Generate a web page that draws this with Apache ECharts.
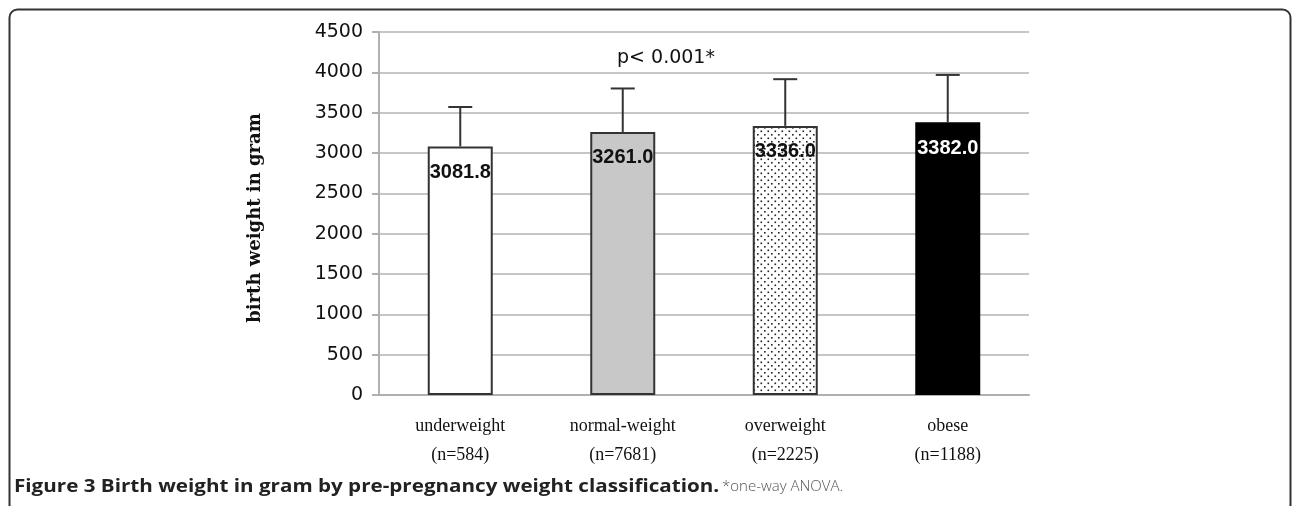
<!DOCTYPE html>
<html>
<head>
<meta charset="utf-8">
<script src="https://cdn.jsdelivr.net/npm/echarts@6/dist/echarts.min.js"></script>
<style>
html,body{margin:0;padding:0;background:#fff;}
#chart{width:1292px;height:506px;}
</style>
</head>
<body>
<div id="chart"></div>
<script>
// ---- data ----
var categories = ['underweight\n(n=584)', 'normal-weight\n(n=7681)', 'overweight\n(n=2225)', 'obese\n(n=1188)'];
var means = [3081.8, 3261.0, 3336.0, 3382.0];
var upperErr = [3570, 3800, 3915, 3968];
var yTicks = [0, 500, 1000, 1500, 2000, 2500, 3000, 3500, 4000, 4500];
var pText = 'p< 0.001*';
var yTitle = 'birth weight in gram';
var captionBold = 'Figure 3 Birth weight in gram by pre-pregnancy weight classification.';
var captionNote = '*one-way ANOVA.';

// dotted pattern
var pat = document.createElement('canvas');
pat.width = 7; pat.height = 7;
var pc = pat.getContext('2d');
pc.fillStyle = '#ffffff'; pc.fillRect(0, 0, 7, 7);
pc.fillStyle = '#222222';
pc.fillRect(1, 1, 1.6, 1.6);
pc.fillRect(4.5, 4.5, 1.6, 1.6);

var fills = ['#ffffff', '#c8c8c8', {image: pat, repeat: 'repeat'}, '#000000'];
var borders = ['#333333', '#333333', '#333333', '#000000'];
var labelColors = ['#111', '#111', '#111', '#ffffff'];

var chart = echarts.init(document.getElementById('chart'), null, {renderer: 'canvas'});

var barData = means.map(function (v, i) {
  return {
    value: v,
    itemStyle: {color: fills[i], borderColor: borders[i], borderWidth: 2},
    label: {color: labelColors[i]}
  };
});
var errData = means.map(function (v, i) { return [i, v, upperErr[i]]; });

var option = {
  animation: false,
  backgroundColor: '#ffffff',
  grid: {left: 379, right: 263, top: 32, bottom: 111, containLabel: false},
  xAxis: {
    type: 'category',
    data: categories,
    axisLine: {show: true, lineStyle: {color: '#b0b0b0', width: 2}},
    axisTick: {show: false},
    axisLabel: {
      margin: 17,
      fontFamily: 'Liberation Serif',
      fontSize: 18,
      lineHeight: 29,
      color: '#111'
    }
  },
  yAxis: {
    type: 'value',
    min: 0, max: 4500, interval: 500,
    axisLine: {show: true, lineStyle: {color: '#b0b0b0', width: 2}},
    axisTick: {show: true, length: 7, lineStyle: {color: '#b0b0b0', width: 2}},
    splitLine: {show: true, lineStyle: {color: '#b3b3b3', width: 1.5}},
    axisLabel: {
      margin: 16,
      fontFamily: 'DejaVu Sans',
      fontSize: 19,
      color: '#111',
      formatter: function (v) { return yTicks.indexOf(v) >= 0 ? String(v) : ''; }
    }
  },
  series: [
    {
      type: 'bar',
      data: barData,
      barWidth: 65,
      z: 2,
      label: {
        show: true,
        position: 'insideTop',
        distance: 16,
        fontFamily: 'Liberation Sans',
        fontWeight: 'bold',
        fontSize: 20,
        formatter: function (p) { return p.value.toFixed(1); }
      }
    },
    {
      type: 'custom',
      data: errData,
      z: 3,
      renderItem: function (params, api) {
        var x = api.value(0);
        var lo = api.coord([x, api.value(1)]);
        var hi = api.coord([x, api.value(2)]);
        var hw = 12;
        var st = {stroke: '#333333', lineWidth: 2};
        return {
          type: 'group',
          children: [
            {type: 'line', shape: {x1: lo[0], y1: lo[1], x2: hi[0], y2: hi[1]}, style: st},
            {type: 'line', shape: {x1: hi[0] - hw, y1: hi[1], x2: hi[0] + hw, y2: hi[1]}, style: st}
          ]
        };
      }
    }
  ],
  graphic: [
    {
      type: 'rect',
      shape: {x: 9.5, y: 9.5, width: 1281, height: 540, r: [8, 8, 0, 0]},
      style: {fill: 'none', stroke: '#333333', lineWidth: 2},
      silent: true, z: 0
    },
    {
      type: 'text',
      x: 255, y: 218,
      rotation: Math.PI / 2,
      style: {
        text: yTitle,
        fontFamily: 'DejaVu Serif',
        fontWeight: 'bold',
        fontSize: 18,
        fill: '#111',
        align: 'center',
        verticalAlign: 'middle'
      }
    },
    {
      type: 'text',
      x: 666, y: 58,
      style: {
        text: pText,
        fontFamily: 'DejaVu Sans',
        fontSize: 19,
        fill: '#111',
        align: 'center',
        verticalAlign: 'middle'
      }
    },
    {
      type: 'text',
      x: 14, y: 487,
      scaleX: 1.145,
      style: {
        text: captionBold,
        fontFamily: 'Open Sans',
        fontWeight: 'bold',
        fontSize: 18,
        fill: '#222',
        verticalAlign: 'middle'
      }
    },
    {
      type: 'text',
      x: 722, y: 487,
      style: {
        text: captionNote,
        fontFamily: 'Open Sans',
        fontWeight: 300,
        fontSize: 15,
        fill: '#555',
        verticalAlign: 'middle'
      }
    }
  ]
};
chart.setOption(option);
</script>
</body>
</html>
